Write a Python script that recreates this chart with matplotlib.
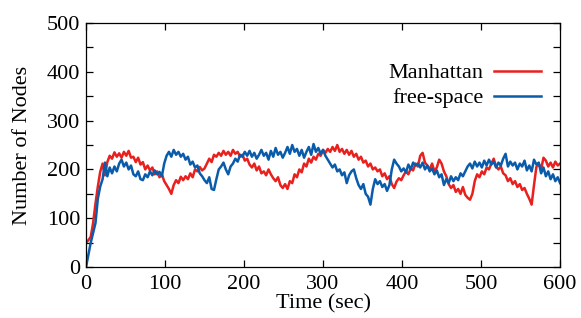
import matplotlib.pyplot as plt
import numpy as np
from matplotlib.ticker import MultipleLocator

manhattan = [
    50, 55, 62, 90, 130, 165, 195, 212, 188, 215,
    228, 222, 235, 226, 233, 224, 236, 228, 238, 224,
    226, 215, 224, 210, 215, 200, 208, 198, 204, 190,
    196, 184, 190, 176, 168, 160, 150, 168, 178, 172,
    185, 178, 186, 180, 192, 184, 200, 196, 205, 198,
    202, 212, 222, 215, 230, 226, 234, 228, 238, 230,
    236, 228, 240, 232, 236, 226, 230, 218, 222, 210,
    204, 212, 198, 206, 192, 196, 188, 200, 190, 182,
    176, 184, 168, 162, 170, 160, 176, 172, 190, 184,
    200, 194, 212, 206, 222, 214, 226, 220, 232, 228,
    240, 234, 242, 236, 246, 238, 250, 236, 242, 232,
    240, 230, 238, 226, 232, 220, 226, 214, 218, 206,
    212, 200, 204, 196, 200, 186, 192, 180, 186, 170,
    162, 175, 182, 178, 188, 196, 190, 202, 198, 212,
    206, 228, 234, 214, 208, 200, 212, 196, 204, 220,
    212, 196, 186, 170, 162, 168, 154, 160, 150, 164,
    148, 142, 138, 150, 176, 190, 184, 196, 190, 204,
    200, 212, 222, 206, 200, 206, 192, 188, 176, 182,
    170, 176, 164, 170, 158, 162, 150, 140, 128, 168,
    205, 212, 200, 224, 218, 206, 214, 204, 216, 208,
    212,
]
free_space = [
    0, 25, 50, 70, 90, 140, 165, 180, 214, 186,
    204, 192, 206, 196, 212, 220, 206, 214, 200, 208,
    190, 186, 196, 180, 178, 190, 184, 196, 188, 198,
    190, 195, 186, 212, 228, 236, 226, 240, 230, 236,
    226, 232, 220, 226, 210, 216, 204, 208, 192, 186,
    178, 172, 184, 160, 158, 180, 200, 206, 214, 200,
    190, 206, 212, 222, 216, 230, 226, 236, 228, 238,
    226, 234, 222, 230, 240, 228, 234, 220, 238, 226,
    244, 230, 236, 224, 234, 246, 232, 250, 236, 242,
    228, 240, 224, 236, 246, 230, 252, 236, 244, 232,
    240, 228, 220, 212, 204, 210, 196, 200, 188, 194,
    172, 188, 196, 200, 182, 168, 160, 170, 150, 144,
    128, 160, 180, 170, 176, 164, 170, 156, 168, 200,
    220, 212, 206, 196, 202, 194, 210, 200, 214, 208,
    212, 204, 214, 200, 208, 196, 202, 190, 198, 184,
    190, 168, 180, 172, 186, 176, 184, 178, 192, 186,
    196, 206, 212, 202, 216, 206, 214, 204, 218, 208,
    220, 210, 216, 204, 214, 208, 222, 232, 206, 216,
    208, 214, 200, 212, 206, 218, 198, 208, 196, 220,
    210, 214, 192, 204, 186, 196, 180, 190, 176, 184,
    172,
]
time_m = np.linspace(0, 600, len(manhattan))
time_f = np.linspace(0, 600, len(free_space))

plt.rcParams['font.family'] = ['Liberation Serif', 'DejaVu Serif']
plt.rcParams['font.size'] = 16

fig = plt.figure(figsize=(5.81, 3.18), dpi=100)
ax = fig.add_axes([0.148, 0.160, 0.816, 0.768])

ax.plot(time_m, manhattan, color='#e8201e', lw=1.8, label='Manhattan')
ax.plot(time_f, free_space, color='#0a5cab', lw=1.8, label='free-space')

ax.set_xlim(0, 600)
ax.set_ylim(0, 500)
ax.xaxis.set_major_locator(MultipleLocator(100))
ax.yaxis.set_major_locator(MultipleLocator(100))
ax.yaxis.set_minor_locator(MultipleLocator(50))
ax.tick_params(which='both', direction='in', top=True, right=True,
               length=5, width=0.9, labelsize=16)
ax.tick_params(axis='x', pad=6)
ax.tick_params(axis='y', pad=4)
for s in ax.spines.values():
    s.set_linewidth(0.9)

ax.set_xlabel('Time (sec)', fontsize=16, labelpad=0)
ax.set_ylabel('Number of Nodes', fontsize=16, labelpad=11)

ax.legend(loc='upper right', bbox_to_anchor=(0.983, 0.882), frameon=False,
          markerfirst=False, handlelength=2.1, handletextpad=0.5,
          labelspacing=0.2, borderpad=0, fontsize=16)

fig.savefig('out.png', dpi=100)
